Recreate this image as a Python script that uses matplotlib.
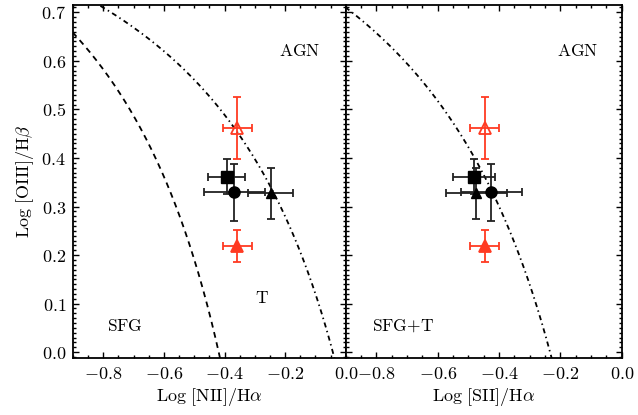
import numpy as np
import matplotlib
matplotlib.use("Agg")
import matplotlib.pyplot as plt
from matplotlib.ticker import MultipleLocator, FuncFormatter

plt.rcParams['font.family'] = ['DejaVu Serif']
plt.rcParams['mathtext.fontset'] = 'cm'

# DATA
# left panel: [NII]/Ha
nii_x = [-0.393, -0.368, -0.248]
nii_xerr = [0.060, 0.100, 0.075]
nii_red_x = [-0.358, -0.358]
nii_red_xerr = [0.048, 0.048]
# right panel: [SII]/Ha
sii_x = [-0.483, -0.425, -0.474]
sii_xerr = [0.068, 0.100, 0.100]
sii_red_x = [-0.447, -0.447]
sii_red_xerr = [0.047, 0.047]
# shared y values: Log [OIII]/Hb
blk_y = [0.361, 0.329, 0.327]
blk_yerr = [0.036, 0.059, 0.053]
blk_marker = ['s', 'o', '^']
red_y = [0.461, 0.219]
red_yerr = [0.064, 0.033]
red_fill = [False, True]

# demarcation lines: a/(x-b)+c
kauff_nii = (0.61, 0.05, 1.30)
kewley_nii = (0.61, 0.47, 1.19)
kewley_sii = (0.72, 0.32, 1.30)

RED = '#ff3a22'
DASH = (0, (3.2, 2.6))
DASHDOT = (0, (2.8, 2.0, 0.8, 2.0))

def demarc(coef, xmax):
    x = np.linspace(-1.0, xmax, 400)
    return x, coef[0] / (x - coef[1]) + coef[2]

def math_tick(v, pos):
    s = '%.1f' % v
    if s == '-0.0':
        s = '0.0'
    return '$' + s + '$'

fig = plt.figure(figsize=(6.38, 4.15), dpi=100)
ax1 = fig.add_axes([0.1144, 0.1373, 0.4276, 0.8506])
ax2 = fig.add_axes([0.542, 0.1373, 0.4326, 0.8506])

def style(ax):
    ax.set_xlim(-0.9, 0.0)
    ax.set_ylim(-0.012, 0.715)
    ax.xaxis.set_major_locator(MultipleLocator(0.2))
    ax.xaxis.set_minor_locator(MultipleLocator(0.05))
    ax.yaxis.set_major_locator(MultipleLocator(0.1))
    ax.yaxis.set_minor_locator(MultipleLocator(0.01))
    ax.tick_params(which='both', direction='in', top=True, right=True, width=1.0)
    ax.tick_params(which='major', length=4, labelsize=13, pad=5)
    ax.tick_params(which='minor', length=2)
    ax.xaxis.set_major_formatter(FuncFormatter(math_tick))
    ax.yaxis.set_major_formatter(FuncFormatter(math_tick))
    for sp in ax.spines.values():
        sp.set_linewidth(1.3)

style(ax1)
style(ax2)
ax2.tick_params(labelleft=False)

# lines
x, y = demarc(kauff_nii, 0.0)
ax1.plot(x, y, color='k', lw=1.3, ls=DASH)
x, y = demarc(kewley_nii, 0.0)
ax1.plot(x, y, color='k', lw=1.3, ls=DASHDOT)
x, y = demarc(kewley_sii, 0.0)
ax2.plot(x, y, color='k', lw=1.3, ls=DASHDOT)

def points(ax, bx, bxerr, rx, rxerr):
    for i in range(len(bx)):
        ax.errorbar(bx[i], blk_y[i], xerr=bxerr[i], yerr=blk_yerr[i],
                    fmt=blk_marker[i], color='k', ms=8 if blk_marker[i] != '^' else 7.5,
                    ecolor='#222222', elinewidth=1.3, capsize=3, capthick=1.3, zorder=3)
    for i in range(len(rx)):
        ax.errorbar(rx[i], red_y[i], xerr=rxerr[i], yerr=red_yerr[i],
                    fmt='^', color=RED, ms=8,
                    mfc=RED if red_fill[i] else 'none', mec=RED, mew=1.3,
                    ecolor=RED, elinewidth=1.3, capsize=3, capthick=1.3, zorder=3)

points(ax1, nii_x, nii_xerr, nii_red_x, nii_red_xerr)
points(ax2, sii_x, sii_xerr, sii_red_x, sii_red_xerr)

tkw = dict(fontsize=12.5, ha='center', va='center')
ax1.text(-0.152, 0.62, '$\\mathrm{AGN}$', **tkw)
ax1.text(-0.277, 0.11, '$\\mathrm{T}$', **tkw)
ax1.text(-0.73, 0.053, '$\\mathrm{SFG}$', **tkw)
ax2.text(-0.144, 0.62, '$\\mathrm{AGN}$', **tkw)
ax2.text(-0.714, 0.053, '$\\mathrm{SFG{+}T}$', **tkw)

ax1.set_xlabel('$\\mathrm{Log\\ [NII]/H}\\alpha$', fontsize=13, labelpad=2)
ax2.set_xlabel('$\\mathrm{Log\\ [SII]/H}\\alpha$', fontsize=13, labelpad=2)
ax1.set_ylabel('$\\mathrm{Log\\ [OIII]/H}\\beta$', fontsize=13, labelpad=4)

fig.savefig('out.png', dpi=100)
